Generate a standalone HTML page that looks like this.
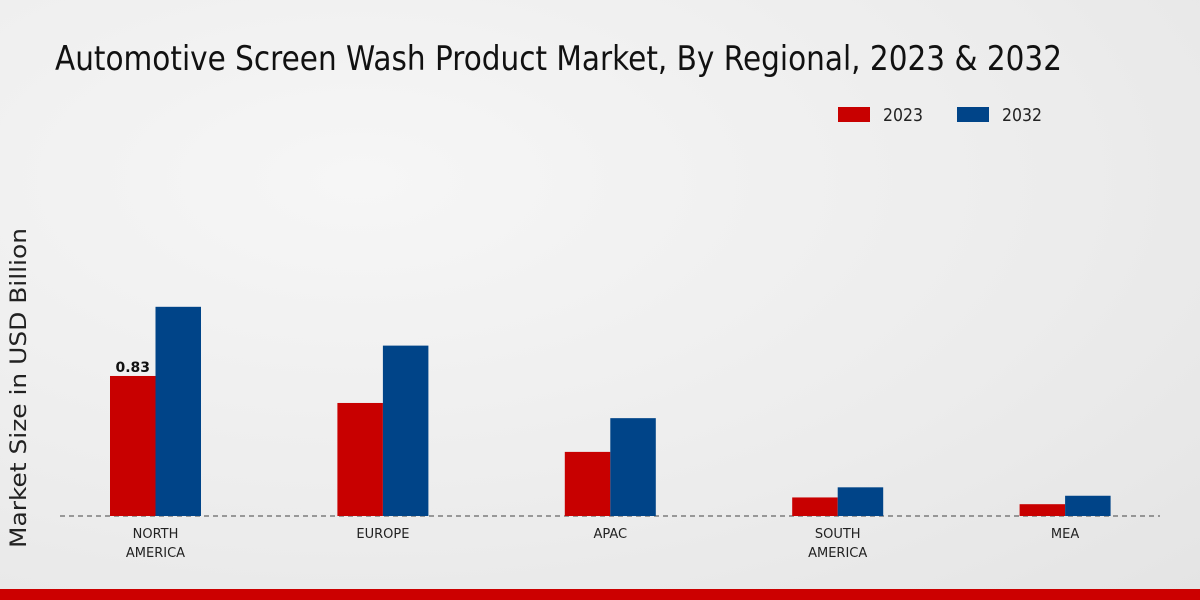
<!DOCTYPE html>
<html><head><meta charset="utf-8"><style>
html,body{margin:0;padding:0;width:1200px;height:600px;overflow:hidden}
body{background:radial-gradient(ellipse at 30% 30%,#f6f6f6 0%,#ececec 60%,#e4e4e4 100%);font-family:"DejaVu Sans","Liberation Sans",sans-serif}
</style></head><body>
<svg id="chart" width="1200" height="600" xmlns="http://www.w3.org/2000/svg">
<text x="55" y="70" font-size="34" fill="#111" textLength="1007" lengthAdjust="spacingAndGlyphs" font-family="DejaVu Sans, sans-serif">Automotive Screen Wash Product Market, By Regional, 2023 &amp; 2032</text>
<g>
<rect x="838" y="107" width="32" height="15" fill="#c80000"/>
<text x="883" y="121" font-size="18" fill="#222" textLength="40" lengthAdjust="spacingAndGlyphs">2023</text>
<rect x="957" y="107" width="32" height="15" fill="#004488"/>
<text x="1002" y="121" font-size="18" fill="#222" textLength="40" lengthAdjust="spacingAndGlyphs">2032</text>
</g>
<text transform="translate(26,388) rotate(-90)" text-anchor="middle" font-size="22" fill="#222" textLength="320" lengthAdjust="spacingAndGlyphs">Market Size in USD Billion</text>
<line x1="60" y1="516" x2="1160" y2="516" stroke="#444" stroke-dasharray="5,4" stroke-width="1"/>
<g id="bars"></g>
<rect x="0" y="589" width="1200" height="11" fill="#cc0000"/>
</svg>
<script>
const categories = ["NORTH|AMERICA","EUROPE","APAC","SOUTH|AMERICA","MEA"];
const values2023 = [0.83,0.67,0.38,0.11,0.07];
const values2032 = [1.24,1.01,0.58,0.17,0.12];
const labeledValue = "0.83";
const NS="http://www.w3.org/2000/svg";
const baseY=516, pxPerUnit=168.7, firstCenter=155.5, spacing=227.4, bw=45.5;
const yScale=v=>baseY-v*pxPerUnit;
const xCenter=i=>firstCenter+i*spacing;
const g=document.getElementById('bars');
categories.forEach((c,i)=>{
  const cx=xCenter(i);
  [[values2023,'#c80000',-bw,'2023'],[values2032,'#004488',0,'2032']].forEach(([arr,col,off,yr])=>{
    const r=document.createElementNS(NS,'rect');
    r.setAttribute('x',cx+off);r.setAttribute('y',yScale(arr[i]));
    r.setAttribute('width',bw);r.setAttribute('height',baseY-yScale(arr[i]));
    r.setAttribute('fill',col);
    
    
    g.appendChild(r);
  });
  c.split('|').forEach((ln,j)=>{
    const t=document.createElementNS(NS,'text');
    t.setAttribute('x',cx);t.setAttribute('y',538+j*19);
    t.setAttribute('text-anchor','middle');t.setAttribute('font-size','13');t.setAttribute('fill','#222');
    t.textContent=ln;
    
    
    g.appendChild(t);
  });
  if(i===0){
    const t=document.createElementNS(NS,'text');
    t.setAttribute('x',cx-bw/2);t.setAttribute('y',yScale(values2023[0])-4);
    t.setAttribute('text-anchor','middle');t.setAttribute('font-size','14');t.setAttribute('font-weight','bold');t.setAttribute('fill','#111');
    t.textContent=labeledValue;
    
    
    g.appendChild(t);
  }
});
</script>
</body></html>
